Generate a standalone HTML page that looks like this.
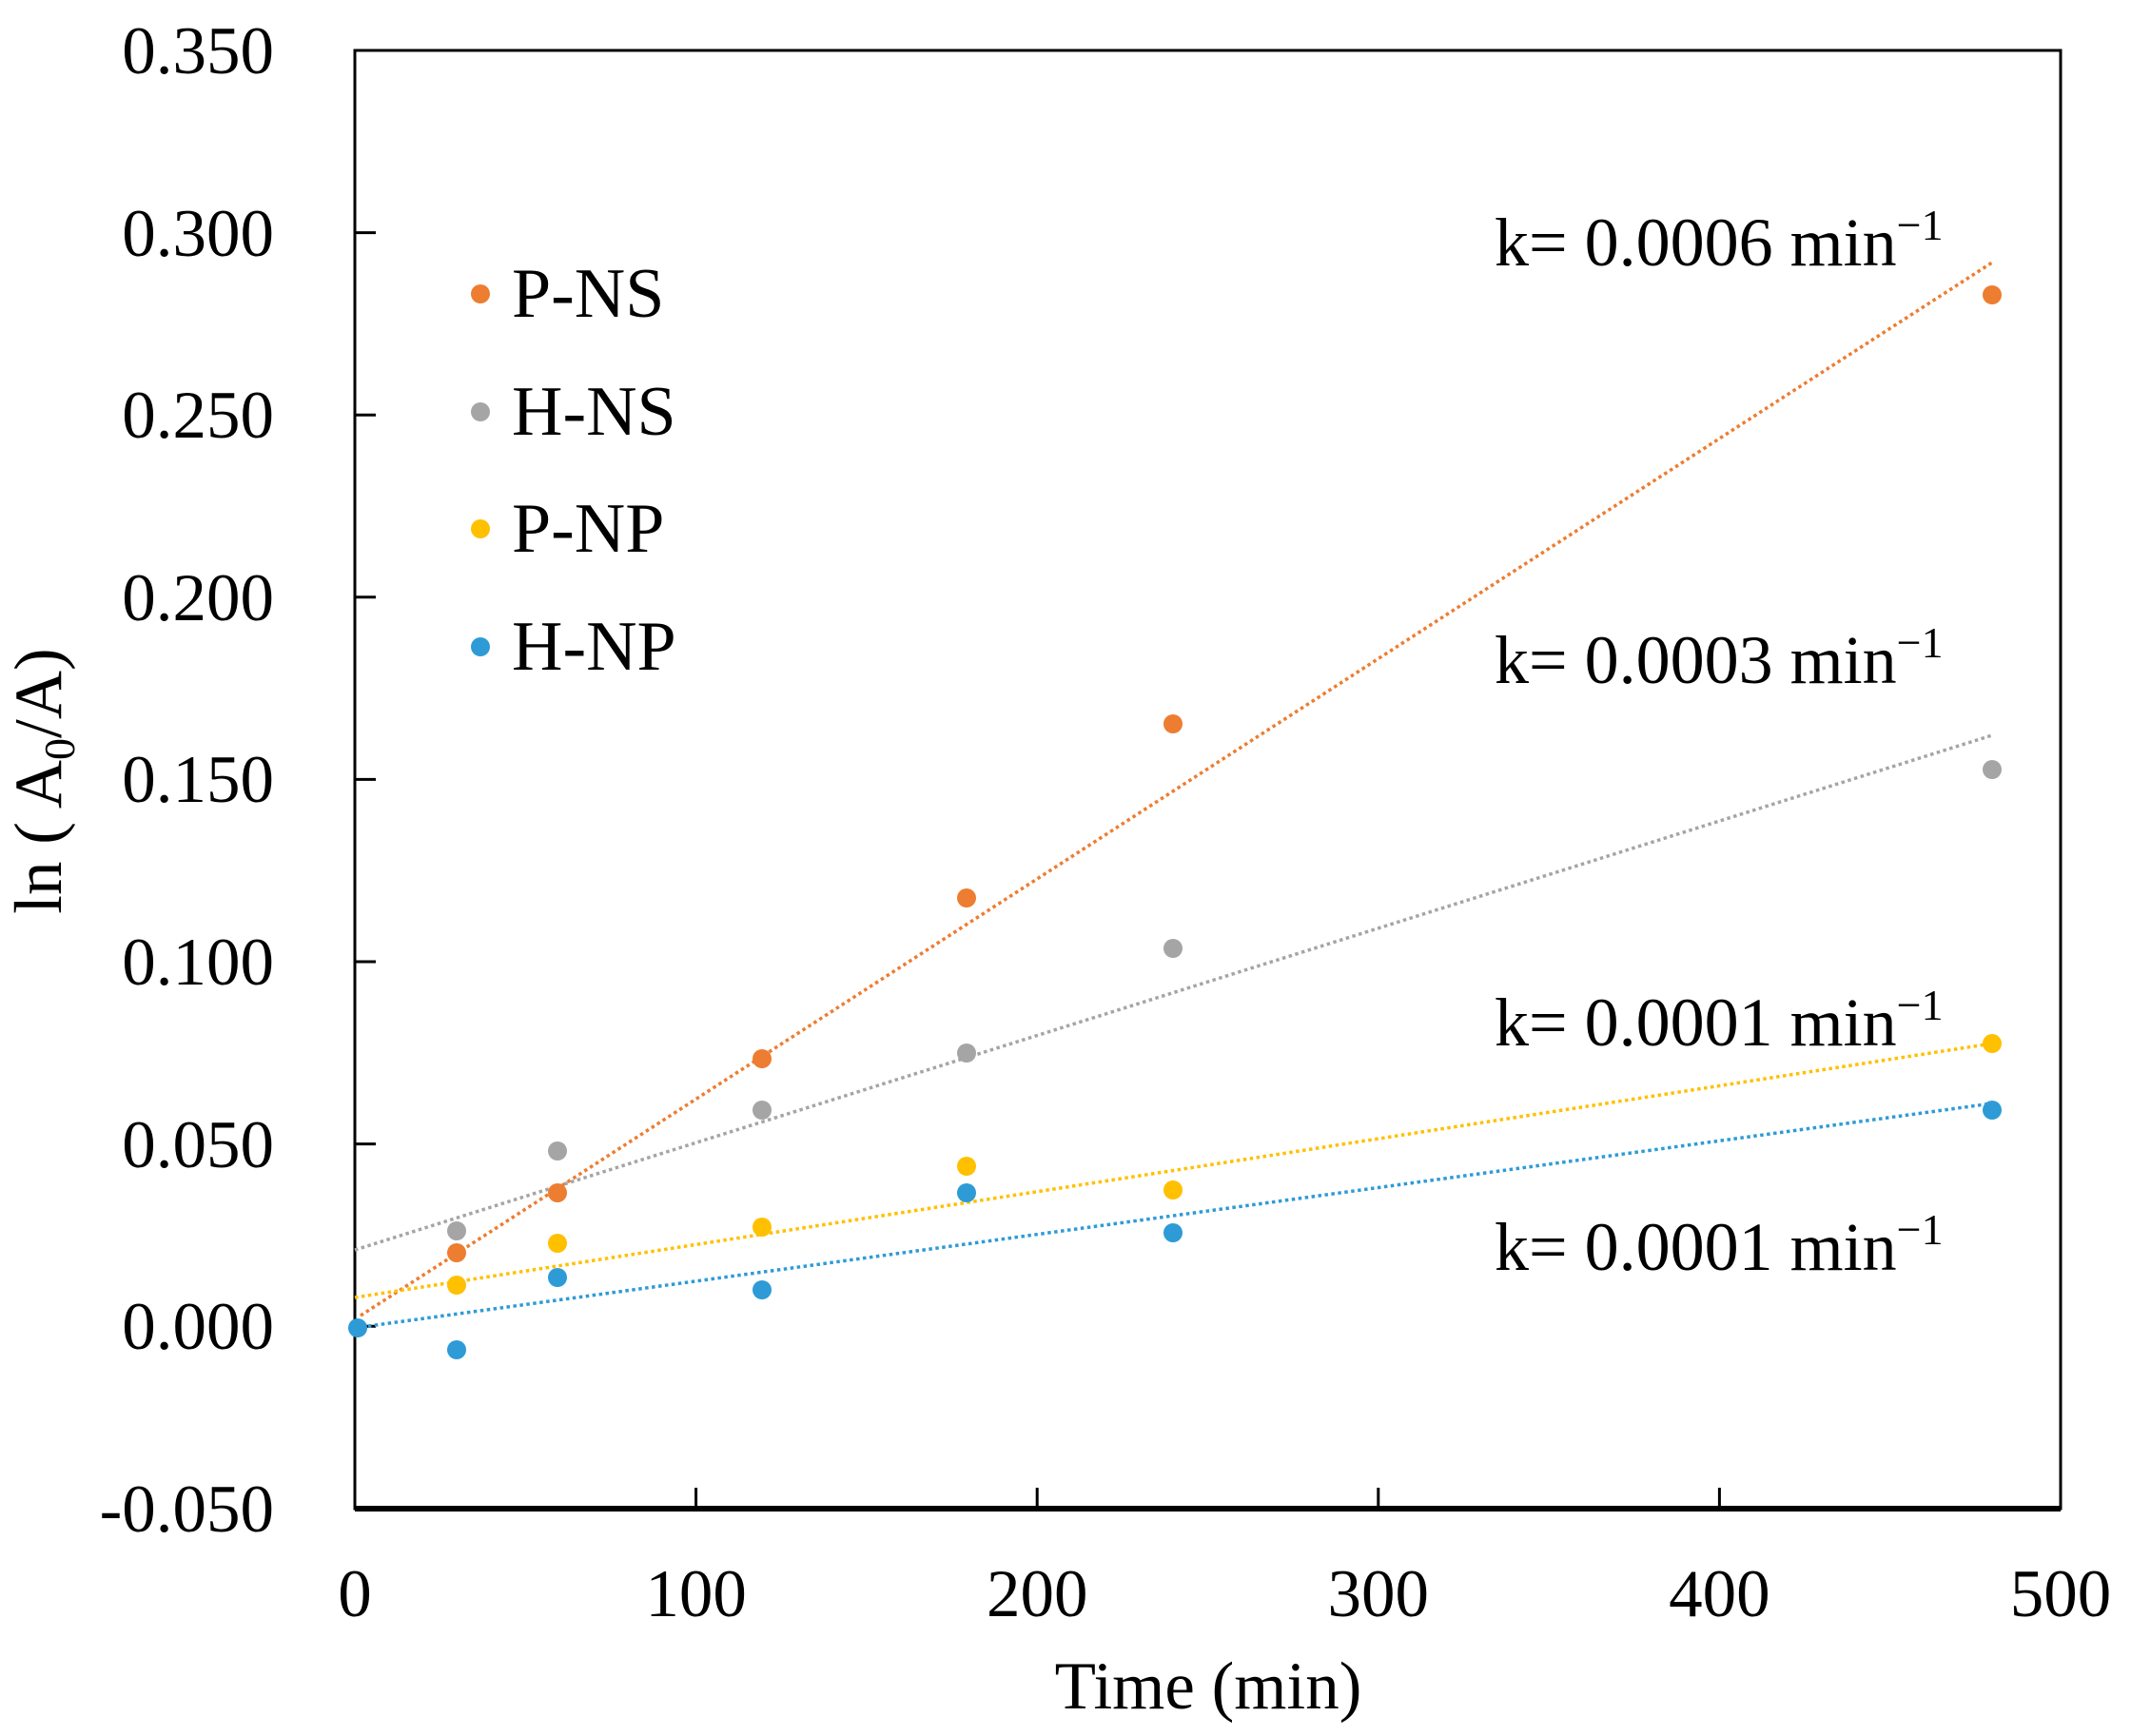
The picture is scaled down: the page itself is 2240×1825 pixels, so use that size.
<!DOCTYPE html>
<html><head><style>
html,body{margin:0;padding:0;background:#fff;}
svg{display:block;}
text{font-family:"Liberation Serif",serif;fill:#000;}
</style></head><body>
<svg width="2240" height="1825" viewBox="0 0 2240 1825" xmlns="http://www.w3.org/2000/svg">
<rect x="0" y="0" width="2240" height="1825" fill="#fff"/>
<rect x="373" y="53" width="1793" height="1533" fill="none" stroke="#000" stroke-width="3"/>
<line x1="373" y1="1586" x2="2166" y2="1586" stroke="#000" stroke-width="6"/>
<g stroke="#000" stroke-width="3">
<line x1="373" y1="244.6" x2="395" y2="244.6"/>
<line x1="373" y1="436.2" x2="395" y2="436.2"/>
<line x1="373" y1="627.8" x2="395" y2="627.8"/>
<line x1="373" y1="819.4" x2="395" y2="819.4"/>
<line x1="373" y1="1011" x2="395" y2="1011"/>
<line x1="373" y1="1202.6" x2="395" y2="1202.6"/>
<line x1="373" y1="1394.2" x2="395" y2="1394.2"/>
<line x1="731.6" y1="1586" x2="731.6" y2="1564"/>
<line x1="1090.2" y1="1586" x2="1090.2" y2="1564"/>
<line x1="1448.8" y1="1586" x2="1448.8" y2="1564"/>
<line x1="1807.4" y1="1586" x2="1807.4" y2="1564"/>
</g>
<g font-size="71" text-anchor="end">
<text x="288" y="77">0.350</text>
<text x="288" y="269">0.300</text>
<text x="288" y="460">0.250</text>
<text x="288" y="652">0.200</text>
<text x="288" y="843">0.150</text>
<text x="288" y="1035">0.100</text>
<text x="288" y="1227">0.050</text>
<text x="288" y="1418">0.000</text>
<text x="288" y="1610">-0.050</text>
</g>
<g font-size="71" text-anchor="middle">
<text x="373" y="1699">0</text>
<text x="731.6" y="1699">100</text>
<text x="1090.2" y="1699">200</text>
<text x="1448.8" y="1699">300</text>
<text x="1807.4" y="1699">400</text>
<text x="2166" y="1699">500</text>
<text x="1270" y="1796">Time (min)</text>
</g>
<text font-size="71" text-anchor="middle" transform="translate(64,821) rotate(-90)">ln ( A<tspan font-size="46" dy="14">0</tspan><tspan dy="-14">/A)</tspan></text>
<g stroke-width="3.5" stroke-dasharray="3.5,3.5" fill="none">
<line x1="379" y1="1383" x2="2094" y2="276" stroke="#ED7D31"/>
<line x1="373" y1="1314" x2="2094" y2="773" stroke="#A5A5A5"/>
<line x1="373" y1="1364" x2="2094" y2="1097" stroke="#FFC000"/>
<line x1="373" y1="1396" x2="2094" y2="1160" stroke="#2E9BD6"/>
</g>
<g fill="#ED7D31">
<circle cx="480" cy="1317" r="10"/><circle cx="586" cy="1254" r="10"/><circle cx="801" cy="1113" r="10"/><circle cx="1016" cy="944" r="10"/><circle cx="1233" cy="761" r="10"/><circle cx="2094" cy="310" r="10"/>
</g>
<g fill="#A5A5A5">
<circle cx="480" cy="1294" r="10"/><circle cx="586" cy="1210" r="10"/><circle cx="801" cy="1167" r="10"/><circle cx="1016" cy="1107" r="10"/><circle cx="1233" cy="997" r="10"/><circle cx="2094" cy="809" r="10"/>
</g>
<g fill="#FFC000">
<circle cx="480" cy="1351" r="10"/><circle cx="586" cy="1307" r="10"/><circle cx="801" cy="1290" r="10"/><circle cx="1016" cy="1226" r="10"/><circle cx="1233" cy="1251" r="10"/><circle cx="2094" cy="1097" r="10"/>
</g>
<g fill="#2E9BD6">
<circle cx="376" cy="1396" r="10"/><circle cx="480" cy="1419" r="10"/><circle cx="586" cy="1343" r="10"/><circle cx="801" cy="1356" r="10"/><circle cx="1016" cy="1254" r="10"/><circle cx="1233" cy="1296" r="10"/><circle cx="2094" cy="1167" r="10"/>
</g>
<circle cx="505" cy="309" r="10" fill="#ED7D31"/>
<circle cx="505" cy="433" r="10" fill="#A5A5A5"/>
<circle cx="505" cy="556" r="10" fill="#FFC000"/>
<circle cx="505" cy="680" r="10" fill="#2E9BD6"/>
<g font-size="74">
<text x="538" y="333">P-NS</text>
<text x="538" y="457">H-NS</text>
<text x="538" y="580">P-NP</text>
<text x="538" y="704">H-NP</text>
</g>
<g font-size="72">
<text x="1571" y="279">k= 0.0006 min<tspan font-size="46" dy="-27">−1</tspan></text>
<text x="1571" y="718">k= 0.0003 min<tspan font-size="46" dy="-27">−1</tspan></text>
<text x="1571" y="1099">k= 0.0001 min<tspan font-size="46" dy="-27">−1</tspan></text>
<text x="1571" y="1335">k= 0.0001 min<tspan font-size="46" dy="-27">−1</tspan></text>
</g>
</svg>
</body></html>
